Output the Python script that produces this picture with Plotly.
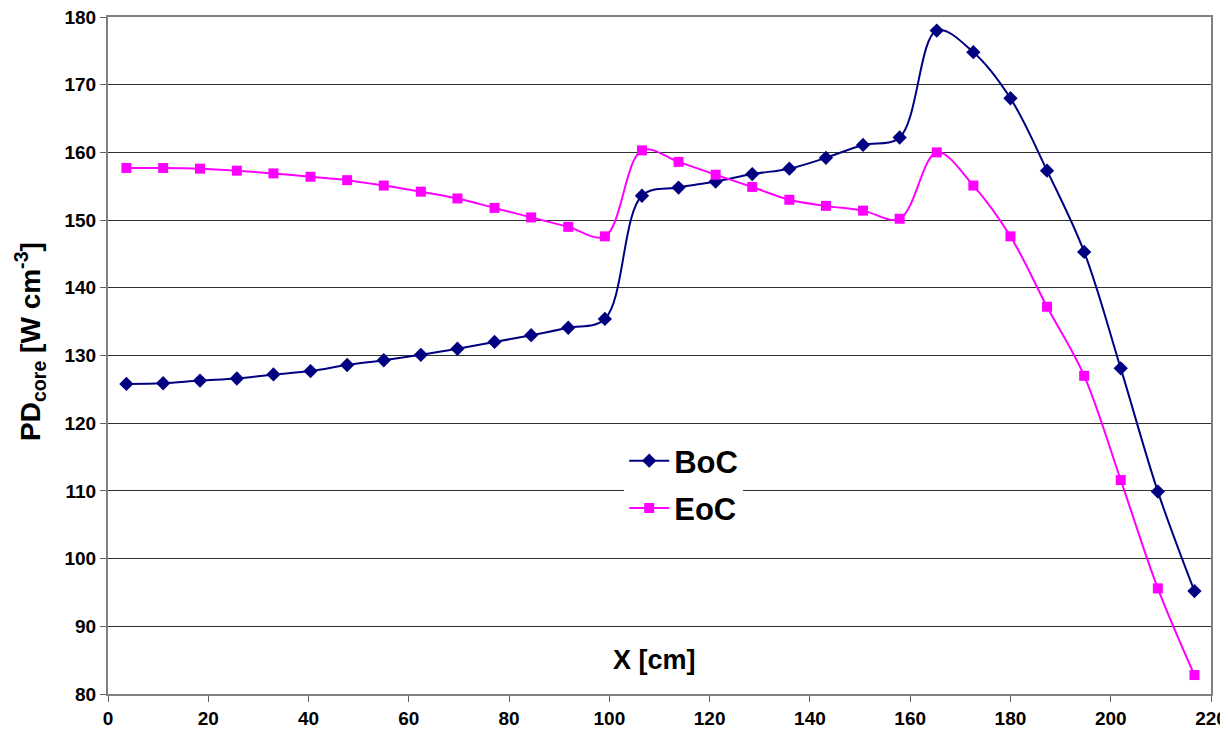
import plotly.graph_objects as go

x_cm = [3.67, 11.0, 18.35, 25.7, 33.0, 40.4, 47.7, 55.0, 62.4, 69.7, 77.1, 84.4, 91.8, 99.1,
        106.5, 113.8, 121.2, 128.5, 135.9, 143.2, 150.6, 157.9, 165.3, 172.6, 180.0, 187.3,
        194.7, 202.0, 209.4, 216.7]
boc = [125.8, 125.9, 126.3, 126.6, 127.2, 127.7, 128.6, 129.3, 130.1, 131.0, 132.0, 133.0,
       134.1, 135.4, 153.6, 154.8, 155.7, 156.8, 157.6, 159.2, 161.1, 162.2, 178.0, 174.8,
       168.0, 157.3, 145.3, 128.1, 109.9, 95.2]
eoc = [157.7, 157.7, 157.6, 157.3, 156.9, 156.4, 155.9, 155.1, 154.2, 153.2, 151.8, 150.4,
       149.0, 147.6, 160.3, 158.6, 156.7, 154.9, 153.0, 152.1, 151.4, 150.2, 160.0, 155.1,
       147.6, 137.2, 127.0, 111.6, 95.6, 82.8]

FONT = "Arial, Liberation Sans, sans-serif"

fig = go.Figure()
fig.add_trace(go.Scatter(x=x_cm, y=boc, name="BoC", mode="lines+markers", legendgroup="a",
                         line=dict(color="#000080", width=2, shape="spline", smoothing=1.0),
                         marker=dict(symbol="diamond", size=11, color="#000080")))
fig.add_trace(go.Scatter(x=x_cm, y=eoc, name="EoC", mode="lines+markers", legendgroup="b",
                         line=dict(color="#FF00FF", width=2, shape="spline", smoothing=1.0),
                         marker=dict(symbol="square", size=10, color="#FF00FF")))

fig.update_layout(
    width=1212, height=717,
    margin=dict(l=100, r=9, t=9, b=31),
    paper_bgcolor="white", plot_bgcolor="white",
    font=dict(family=FONT, color="black"),
    showlegend=True,
    legend=dict(x=0.468, y=0.384, xanchor="left", yanchor="top", traceorder="grouped",
                bgcolor="white", font=dict(size=31, family=FONT, color="black", weight="bold"),
                itemwidth=40, tracegroupgap=4),
    annotations=[
        dict(x=109, y=85.0, xref="x", yref="y", text="X [cm]",
             showarrow=False, font=dict(size=27, family=FONT, color="black", weight="bold")),
        dict(x=-0.0707, y=0.52, xref="paper", yref="paper", textangle=-90,
             text="PD<sub>core</sub> [W cm<sup>-3</sup>]", showarrow=False,
             xanchor="center", yanchor="middle",
             font=dict(size=28, family=FONT, color="black", weight="bold")),
    ],
)
fig.update_xaxes(range=[0, 220], dtick=20, tick0=0, showgrid=False, automargin=False,
                 showline=True, linecolor="#808080", linewidth=2, mirror=True,
                 ticks="outside", ticklen=6, tickcolor="#606060", ticklabeloverflow="allow",
                 tickfont=dict(size=19, family=FONT, color="black", weight="bold"),
                 zeroline=False)
fig.update_yaxes(range=[80, 180], dtick=10, tick0=80, showgrid=True, automargin=False,
                 gridcolor="#303030", gridwidth=1.2,
                 showline=True, linecolor="#808080", linewidth=2, mirror=True,
                 ticks="outside", ticklen=6, tickcolor="#606060", ticklabeloverflow="allow",
                 tickfont=dict(size=19, family=FONT, color="black", weight="bold"),
                 zeroline=False)

fig.write_html("out.html")
